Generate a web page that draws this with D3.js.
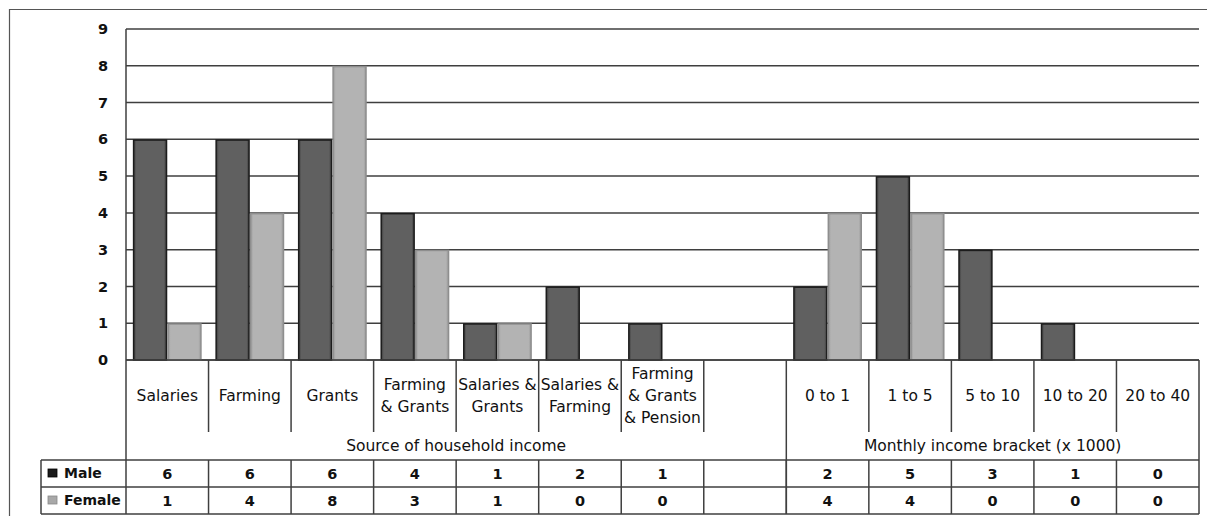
<!DOCTYPE html>
<html>
<head>
<meta charset="utf-8">
<script src="https://cdn.jsdelivr.net/npm/d3@7"></script>
<style>
  html, body { margin: 0; padding: 0; background: #fff; }
  svg { display: block; }
  text { font-family: "DejaVu Sans", Verdana, sans-serif; fill: #111; }
</style>
</head>
<body>
<script>
// Category slots: seven income sources, one spacer, five income brackets
const categories = [
  ["Salaries"], ["Farming"], ["Grants"], ["Farming", "& Grants"],
  ["Salaries &", "Grants"], ["Salaries &", "Farming"],
  ["Farming", "& Grants", "& Pension"], [],
  ["0 to 1"], ["1 to 5"], ["5 to 10"], ["10 to 20"], ["20 to 40"]
];
const maleValues   = [6, 6, 6, 4, 1, 2, 1, null, 2, 5, 3, 1, 0];
const femaleValues = [1, 4, 8, 3, 1, 0, 0, null, 4, 4, 0, 0, 0];
const seriesNames  = ["Male", "Female"];
const groupNames   = ["Source of household income", "Monthly income bracket (x 1000)"];
const groupSpans   = [[0, 7], [8, 12]];
const yTicks       = [0, 1, 2, 3, 4, 5, 6, 7, 8, 9];

const W = 1207, H = 516;
const plotLeft = 126, plotRight = 1199, plotTop = 29, zeroY = 360;
const catBottom = 432, tableTop = 460, rowH = 27, legendLeft = 41;
const lineColor = "#3f3f3f";
const colors = { Male: "#606060", Female: "#b3b3b3" };
const edges = { Male: "#3c3c3c", Female: "#9a9a9a" };
const strokes = { Male: "#1c1c1c", Female: "#8e8e8e" };

const svg = d3.select("body").append("svg").attr("width", W).attr("height", H);

// Soft bevel shading across each bar
const defs = svg.append("defs");
seriesNames.forEach(name => {
  const g = defs.append("linearGradient").attr("id", "grad-" + name)
    .attr("x1", 0).attr("x2", 1).attr("y1", 0).attr("y2", 0);
  [[0, edges[name]], [0.08, colors[name]], [0.92, colors[name]], [1, edges[name]]]
    .forEach(([o, c]) => g.append("stop").attr("offset", o).attr("stop-color", c));
});

// Outer chart frame
svg.append("path")
  .attr("d", `M9.5,${H + 2}V9.5H${W + 2}`)
  .attr("fill", "none").attr("stroke", "#555").attr("stroke-width", 1.2);

const slots = categories.map((_, i) => i);
const x = d3.scaleBand().domain(slots).range([plotLeft, plotRight]).paddingInner(0).paddingOuter(0);
const sx = d3.scaleBand().domain(seriesNames)
  .range([x.bandwidth() * 0.083, x.bandwidth() * (1 - 0.083)]);
const y = d3.scaleLinear().domain([0, 9]).range([zeroY, plotTop]);

// Horizontal gridlines
svg.append("g").selectAll("line").data(yTicks).join("line")
  .attr("x1", plotLeft).attr("x2", plotRight)
  .attr("y1", d => y(d)).attr("y2", d => y(d))
  .attr("stroke", lineColor).attr("stroke-width", 1.5);

// Y axis labels
const yAxis = d3.axisLeft(y).tickValues(yTicks).tickSize(0).tickPadding(18);
const yg = svg.append("g").attr("transform", `translate(${plotLeft},0)`).call(yAxis);
yg.select(".domain").remove();
yg.selectAll("text")
  .style("font-family", '"DejaVu Sans", Verdana, sans-serif')
  .style("font-size", "14.5px").style("font-weight", "bold").attr("fill", "#111");

// Bars
const series = [
  { name: "Male", values: maleValues },
  { name: "Female", values: femaleValues }
];
series.forEach(s => {
  svg.append("g").selectAll("rect")
    .data(s.values.map((v, i) => ({ i, v })).filter(d => d.v))
    .join("rect")
    .attr("x", d => x(d.i) + sx(s.name) + 0.75)
    .attr("width", sx.bandwidth() - 1.5)
    .attr("y", d => y(d.v) + 0.75)
    .attr("height", d => zeroY - y(d.v) - 0.75)
    .attr("fill", `url(#grad-${s.name})`)
    .attr("stroke", strokes[s.name]).attr("stroke-width", 1.5);
});

// Axis lines
const lines = svg.append("g").attr("stroke", lineColor).attr("stroke-width", 1.5);
lines.append("line").attr("x1", plotLeft).attr("x2", plotLeft).attr("y1", plotTop).attr("y2", tableTop + 2 * rowH);
lines.append("line").attr("x1", plotLeft).attr("x2", plotRight).attr("y1", zeroY).attr("y2", zeroY);
lines.append("line").attr("x1", plotRight).attr("x2", plotRight).attr("y1", zeroY).attr("y2", tableTop + 2 * rowH);

// Category separators
const innerSeps = slots.slice(1).filter(i => !groupSpans.some(g => g[0] === i));
lines.selectAll(".sep").data(innerSeps).join("line").attr("class", "sep")
  .attr("x1", d => x(d)).attr("x2", d => x(d))
  .attr("y1", zeroY).attr("y2", catBottom);
lines.selectAll(".gsep").data(groupSpans.slice(1)).join("line").attr("class", "gsep")
  .attr("x1", d => x(d[0])).attr("x2", d => x(d[0]))
  .attr("y1", zeroY).attr("y2", tableTop + 2 * rowH);

// Category labels
const lineH = 22;
svg.append("g").selectAll("text").data(categories.map((c, i) => ({ c, i }))).join("text")
  .attr("x", d => x(d.i) + x.bandwidth() / 2)
  .attr("y", 396)
  .attr("text-anchor", "middle")
  .style("font-size", "15.5px")
  .each(function(d) {
    const n = d.c.length;
    d3.select(this).selectAll("tspan").data(d.c).join("tspan")
      .attr("x", x(d.i) + x.bandwidth() / 2)
      .attr("y", (_, k) => 396 + (k - (n - 1) / 2) * lineH)
      .attr("dy", "0.35em")
      .text(t => t);
  });

// Group labels
svg.append("g").selectAll("text").data(groupNames).join("text")
  .attr("x", (d, k) => (x(groupSpans[k][0]) + x(groupSpans[k][1]) + x.bandwidth()) / 2)
  .attr("y", 446).attr("dy", "0.35em")
  .attr("text-anchor", "middle")
  .style("font-size", "15.5px")
  .text(d => d);

// Data table
const tbl = svg.append("g");
[0, 1, 2].forEach(r => {
  tbl.append("line")
    .attr("x1", legendLeft).attr("x2", plotRight)
    .attr("y1", tableTop + r * rowH).attr("y2", tableTop + r * rowH)
    .attr("stroke", lineColor).attr("stroke-width", 1.5);
});
tbl.append("line").attr("x1", legendLeft).attr("x2", legendLeft)
  .attr("y1", tableTop).attr("y2", tableTop + 2 * rowH)
  .attr("stroke", lineColor).attr("stroke-width", 1.5);
tbl.selectAll(".tsep").data(slots.slice(1)).join("line").attr("class", "tsep")
  .attr("x1", d => x(d)).attr("x2", d => x(d))
  .attr("y1", tableTop).attr("y2", tableTop + 2 * rowH)
  .attr("stroke", lineColor).attr("stroke-width", 1.5);

series.forEach((s, r) => {
  const cy = tableTop + r * rowH + rowH / 2;
  tbl.append("rect")
    .attr("x", 48).attr("y", cy - 4.5).attr("width", 9).attr("height", 8)
    .attr("fill", r === 0 ? "#1a1a1a" : "#a8a8a8")
    .attr("stroke", r === 0 ? "#000" : "#888").attr("stroke-width", 0.8);
  tbl.append("text")
    .attr("x", 64).attr("y", cy).attr("dy", "0.35em")
    .style("font-size", "14px").style("font-weight", "bold")
    .text(s.name);
  tbl.selectAll(".v" + r).data(s.values.map((v, i) => ({ v, i })).filter(d => d.v !== null))
    .join("text").attr("class", "v" + r)
    .attr("x", d => x(d.i) + x.bandwidth() / 2)
    .attr("y", cy).attr("dy", "0.35em")
    .attr("text-anchor", "middle")
    .style("font-size", "14.5px").style("font-weight", "bold")
    .text(d => d.v);
});
</script>
</body>
</html>
